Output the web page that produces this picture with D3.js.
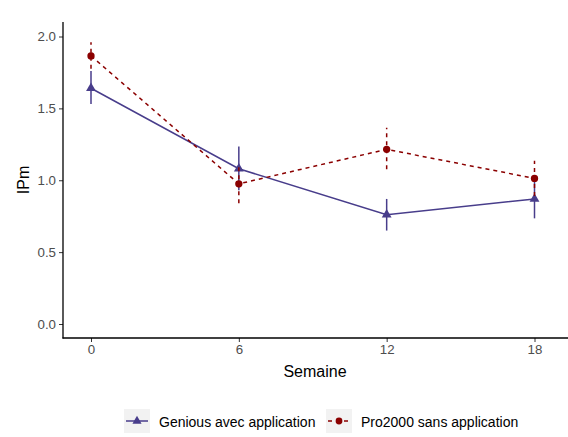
<!DOCTYPE html>
<html><head><meta charset="utf-8">
<script src="https://cdn.jsdelivr.net/npm/d3@7"></script>
<style>body{margin:0;background:#fff}svg{display:block;font-family:"Liberation Sans",Arial,sans-serif}</style>
</head><body>
<svg id="c" width="568" height="437"></svg>
<script>
const weeks = [0, 6, 12, 18];
const seriesNames = ["Genious avec application", "Pro2000 sans application"];
const geniousMean = [1.64, 1.08, 0.76, 0.87];
const geniousLow  = [1.53, 0.93, 0.65, 0.735];
const geniousHigh = [1.76, 1.235, 0.87, 1.01];
const proMean = [1.865, 0.975, 1.215, 1.013];
const proLow  = [1.775, 0.84, 1.076, 0.89];
const proHigh = [1.96, 1.11, 1.365, 1.135];
const yTicks = [0, 0.5, 1.0, 1.5, 2.0];
const xTicks = [0, 6, 12, 18];

const svg = d3.select("#c");
const x = d3.scaleLinear().domain([0, 18]).range([91, 534.5]);
const y = d3.scaleLinear().domain([0, 2]).range([324, 36.5]);
const axisLeftX = 63, axisBottomY = 338, axisTopY = 22, axisRightX = 568;
const tickCol = "#4d4d4d";

// axes
const yAx = svg.append("g").attr("transform", `translate(${axisLeftX},0)`)
  .call(d3.axisLeft(y).tickValues(yTicks).tickFormat(d3.format(".1f")).tickSize(4).tickPadding(3));
yAx.select(".domain").remove();
yAx.selectAll("text").attr("fill", tickCol).style("font-size", "13.3px").style("font-family", "Liberation Sans, Arial, sans-serif");
yAx.selectAll("line").attr("stroke", "#333").attr("stroke-width", 1);
const xAx = svg.append("g").attr("transform", `translate(0,${axisBottomY})`)
  .call(d3.axisBottom(x).tickValues(xTicks).tickFormat(d3.format("d")).tickSize(4).tickPadding(3));
xAx.select(".domain").remove();
xAx.selectAll("text").attr("fill", tickCol).style("font-size", "13.3px").style("font-family", "Liberation Sans, Arial, sans-serif");
xAx.selectAll("line").attr("stroke", "#333").attr("stroke-width", 1);
svg.append("line").attr("x1", axisLeftX).attr("x2", axisLeftX).attr("y1", axisTopY).attr("y2", axisBottomY + 0.5)
  .attr("stroke", "#000").attr("stroke-width", 1.3);
svg.append("line").attr("x1", axisLeftX - 0.5).attr("x2", axisRightX).attr("y1", axisBottomY).attr("y2", axisBottomY)
  .attr("stroke", "#000").attr("stroke-width", 1.3);

svg.append("text").attr("x", 315).attr("y", 377).attr("text-anchor", "middle")
  .style("font-size", "16px").attr("fill", "#000").text("Semaine");
svg.append("text").attr("transform", "translate(29,180) rotate(-90)").attr("text-anchor", "middle")
  .style("font-size", "16px").attr("fill", "#000").text("IPm");

const series = [
  {name: seriesNames[0], mean: geniousMean, lo: geniousLow, hi: geniousHigh, color: "#483D8B", dash: null, shape: d3.symbolTriangle},
  {name: seriesNames[1], mean: proMean, lo: proLow, hi: proHigh, color: "#8B0000", dash: "4,4", shape: d3.symbolCircle}
];
const line = d3.line().x((d, i) => x(weeks[i])).y(d => y(d));

series.forEach(s => {
  const g = svg.append("g");
  g.append("path").attr("d", line(s.mean)).attr("fill", "none").attr("stroke", s.color)
    .attr("stroke-width", 1.5).attr("stroke-dasharray", s.dash);
  weeks.forEach((w, i) => {
    g.append("line").attr("x1", x(w)).attr("x2", x(w)).attr("y1", y(s.lo[i])).attr("y2", y(s.hi[i]))
      .attr("stroke", s.color).attr("stroke-width", 1.5).attr("stroke-dasharray", s.dash);
  });
  weeks.forEach((w, i) => {
    g.append("path").attr("transform", `translate(${x(w)},${y(s.mean[i])})`)
      .attr("d", d3.symbol().type(s.shape).size(42)())
      .attr("fill", s.color);
  });
});

// legend
const legend = [{s: series[0], bx: 124, tx: 159}, {s: series[1], bx: 326, tx: 361}];
legend.forEach(l => {
  const g = svg.append("g");
  g.append("rect").attr("x", l.bx).attr("y", 409).attr("width", 26).attr("height", 24).attr("fill", "#f2f2f2");
  g.append("line").attr("x1", l.bx + 2).attr("x2", l.bx + 24).attr("y1", 421).attr("y2", 421)
    .attr("stroke", l.s.color).attr("stroke-width", 1.5).attr("stroke-dasharray", l.s.dash);
  g.append("path").attr("transform", `translate(${l.bx + 13},421)`)
    .attr("d", d3.symbol().type(l.s.shape).size(36)()).attr("fill", l.s.color);
  g.append("text").attr("x", l.tx).attr("y", 426.5).style("font-size", "14px").attr("fill", "#000").text(l.s.name);
});
</script>
</body></html>
